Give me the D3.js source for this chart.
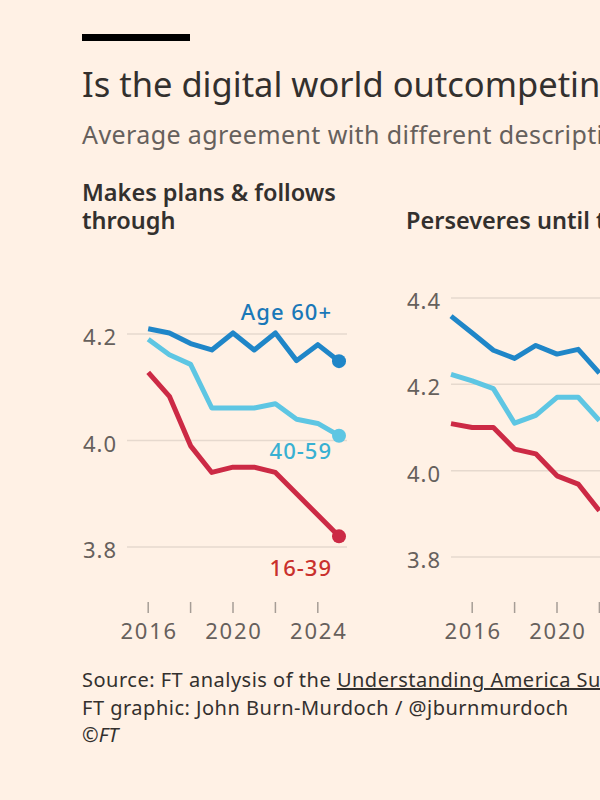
<!DOCTYPE html>
<html>
<head>
<meta charset="utf-8">
<script src="https://cdn.jsdelivr.net/npm/d3@7"></script>
<style>
  body { margin: 0; background: #fff1e5; }
  svg { display: block; font-family: "Noto Sans", sans-serif; }
</style>
</head>
<body>
<div id="chart"></div>
<script>
// data (1-5 agreement scale)
var plansYears = [2016, 2017, 2018, 2019, 2020, 2021, 2022, 2023, 2024, 2025];
var plansOld   = [4.21, 4.202, 4.182, 4.17, 4.202, 4.17, 4.202, 4.15, 4.18, 4.149];
var plansMid   = [4.19, 4.161, 4.143, 4.061, 4.061, 4.061, 4.069, 4.04, 4.032, 4.009];
var plansYoung = [4.128, 4.083, 3.99, 3.94, 3.95, 3.95, 3.94, 3.90, 3.86, 3.82];

var perseveresYears = [2015, 2016, 2017, 2018, 2019, 2020, 2021, 2022];
var perseveresOld   = [4.358, 4.319, 4.279, 4.26, 4.29, 4.27, 4.281, 4.226];
var perseveresMid   = [4.223, 4.208, 4.19, 4.11, 4.128, 4.17, 4.17, 4.116];
var perseveresYoung = [4.109, 4.10, 4.10, 4.05, 4.039, 3.988, 3.969, 3.907];

var plansTicks = [3.8, 4.0, 4.2];
var perseveresTicks = [3.8, 4.0, 4.2, 4.4];
var yearTicks = [2016, 2018, 2020, 2022, 2024];
var yearLabels = [2016, 2020, 2024];

var seriesNames = ["Age 60+", "40-59", "16-39"];
var lineColors = ["#1f86c8", "#5ec6e3", "#cc2a45"];
var labelColors = ["#1a78b8", "#38b0d2", "#c9302c"];

var width = 600, height = 800;
var svg = d3.select("#chart").append("svg")
    .attr("width", width)
    .attr("height", height);

svg.append("rect").attr("width", width).attr("height", height).attr("fill", "#fff1e5");

// FT header bar + titles
svg.append("rect").attr("x", 82).attr("y", 34).attr("width", 108).attr("height", 7).attr("fill", "#000");

svg.append("text")
    .attr("x", 82).attr("y", 97)
    .attr("font-size", 34.5)
    .attr("fill", "#33302e")
    .text("Is the digital world outcompeting the real one?");

svg.append("text")
    .attr("x", 82).attr("y", 144)
    .attr("font-size", 25)
    .attr("letter-spacing", 0.4)
    .attr("fill", "#66605c")
    .text("Average agreement with different descriptions of oneself");

var panels = [
  { title: ["Makes plans & follows", "through"], left: 127, years: plansYears,
    series: [plansOld, plansMid, plansYoung], ticks: plansTicks,
    domain: [3.8, 4.2], range: [547, 334], labels: true },
  { title: [null, "Perseveres until the job is done"], left: 451, years: perseveresYears,
    series: [perseveresOld, perseveresMid, perseveresYoung], ticks: perseveresTicks,
    domain: [3.8, 4.4], range: [557, 298], labels: false }
];

// where each series name sits relative to its last point (first panel only)
var labelDy = [-41, 23, 40];

panels.forEach(function(p) {
    var x = d3.scaleLinear().domain([2015, 2025]).range([p.left, p.left + 212]);
    var y = d3.scaleLinear().domain(p.domain).range(p.range);

    var g = svg.append("g");

    p.title.forEach(function(t, i) {
        if (!t) return;
        g.append("text")
            .attr("x", p.left - 45).attr("y", 201 + i * 28)
            .attr("font-size", 23.5)
            .attr("font-weight", 600)
            .attr("fill", "#33302e")
            .text(t);
    });

    // gridlines + y labels
    g.selectAll(".grid").data(p.ticks).enter().append("line")
        .attr("x1", x(2015)).attr("x2", x(2025) + 8)
        .attr("y1", function(d) { return y(d); })
        .attr("y2", function(d) { return y(d); })
        .attr("stroke", "#e6d9ce")
        .attr("stroke-width", 1.5);

    g.selectAll(".ylab").data(p.ticks).enter().append("text")
        .attr("x", p.left - 44)
        .attr("y", function(d) { return y(d) + 11; })
        .attr("font-size", 22)
        .attr("letter-spacing", 1)
        .attr("fill", "#66605c")
        .text(function(d) { return d3.format(".1f")(d); });

    // x axis ticks
    g.selectAll(".xtick").data(yearTicks).enter().append("line")
        .attr("x1", function(d) { return x(d); })
        .attr("x2", function(d) { return x(d); })
        .attr("y1", 602).attr("y2", 613)
        .attr("stroke", "#a69d96")
        .attr("stroke-width", 1.5);

    g.selectAll(".xlab").data(yearLabels).enter().append("text")
        .attr("x", function(d) { return x(d) + 1; })
        .attr("y", 639)
        .attr("text-anchor", "middle")
        .attr("font-size", 22)
        .attr("letter-spacing", 1.8)
        .attr("fill", "#66605c")
        .text(function(d) { return d; });

    var line = d3.line()
        .x(function(d, i) { return x(p.years[i]); })
        .y(function(d) { return y(d); });

    p.series.forEach(function(vals, s) {
        g.append("path")
            .attr("d", line(vals))
            .attr("fill", "none")
            .attr("stroke", lineColors[s])
            .attr("stroke-width", 5)
            .attr("stroke-linejoin", "round");

        var last = vals.length - 1;
        if (p.years[last] === 2025) {
            g.append("circle")
                .attr("cx", x(p.years[last]))
                .attr("cy", y(vals[last]))
                .attr("r", 7)
                .attr("fill", lineColors[s]);
        }
        if (p.labels) {
            g.append("text")
                .attr("x", x(p.years[last]) - 7)
                .attr("y", y(vals[last]) + labelDy[s])
                .attr("text-anchor", "end")
                .attr("font-size", 22)
                .attr("letter-spacing", 1)
                .attr("font-weight", 500)
                .attr("fill", labelColors[s])
                .text(seriesNames[s]);
        }
    });
});

// footer
var footSize = 20, footSpacing = 0.5;
var src = svg.append("text").attr("x", 82).attr("y", 687)
    .attr("font-size", footSize).attr("letter-spacing", footSpacing).attr("fill", "#33302e");
src.append("tspan").text("Source: FT analysis of the ");
src.append("tspan").attr("text-decoration", "underline").text("Understanding America Survey");

svg.append("text").attr("x", 82).attr("y", 715)
    .attr("font-size", footSize).attr("letter-spacing", footSpacing).attr("fill", "#33302e")
    .text("FT graphic: John Burn-Murdoch / @jburnmurdoch");
svg.append("text").attr("x", 82).attr("y", 742)
    .attr("font-size", footSize).attr("font-style", "italic").attr("fill", "#33302e")
    .text("©FT");
</script>
</body>
</html>
